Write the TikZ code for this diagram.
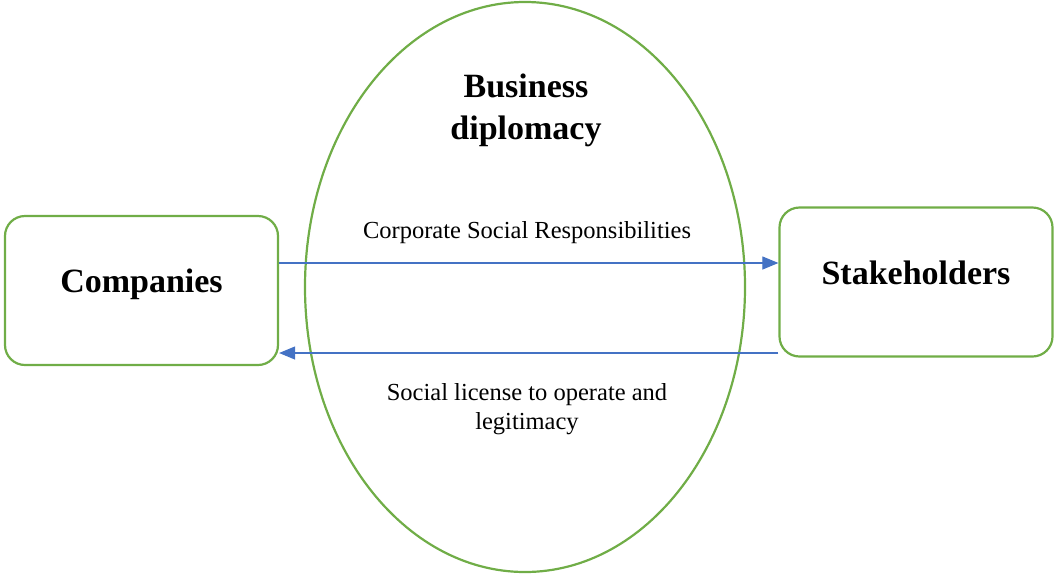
\documentclass[tikz,border=0pt]{standalone}
\usepackage{fontspec}
\setmainfont{Liberation Serif}
\definecolor{bdgreen}{RGB}{112,173,71}
\definecolor{bdblue}{RGB}{68,114,196}
\usetikzlibrary{arrows.meta}

\begin{document}
\begin{tikzpicture}[x=1pt, y=-1pt,
  party/.style={draw=bdgreen, line width=2.2pt, rounded corners=20pt, minimum width=273pt, minimum height=149pt, text height=25pt, text depth=21pt, font=\fontsize{34}{40}\selectfont\bfseries},
  flow/.style={draw=bdblue, line width=1.1pt, -{Triangle[length=16pt, width=13pt]}},
  lbl/.style={font=\fontsize{24.5}{29}\selectfont, align=center}
]
  \useasboundingbox (0,0) rectangle (1055,574);
  %% Business diplomacy
  \draw[bdgreen, line width=2.2pt] (525,287) ellipse [x radius=220, y radius=285];
  \node[font=\fontsize{34}{42}\selectfont\bfseries, align=center] (bd) at (526,110) {Business\\diplomacy};
  %% the two parties
  \node[party] (comp) at (141.5,290.5) {Companies};
  \node[party] (stake) at (916,282) {Stakeholders};
  %% flows
  \draw[flow] (comp.east |- 0,263) -- (stake.west |- 0,263);
  \draw[flow] (stake.west |- 0,353) -- (comp.east |- 0,353);
  \node[lbl] (csr) at (527,233) {Corporate Social Responsibilities};
  \node[lbl] (slo) at (527,409) {Social license to operate and\\legitimacy};
\end{tikzpicture}
\end{document}
